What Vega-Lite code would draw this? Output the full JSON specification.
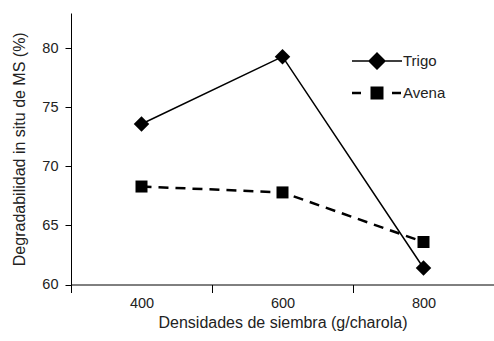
{
  "$schema": "https://vega.github.io/schema/vega-lite/v6.json",
  "width": 423,
  "height": 271.5,
  "autosize": "none",
  "padding": {"left": 71, "top": 13, "right": 0, "bottom": 56.5},
  "background": "white",
  "config": {
    "view": {"stroke": null},
    "font": "Liberation Sans",
    "axis": {
      "domainColor": "black",
      "tickColor": "black",
      "domainWidth": 1,
      "tickWidth": 1,
      "labelColor": "#222",
      "titleColor": "#222",
      "labelFont": "Liberation Sans",
      "titleFont": "Liberation Sans",
      "titleFontWeight": "normal",
      "labelFontSize": 14.5,
      "titleFontSize": 16,
      "grid": false
    }
  },
  "data": {
    "values": [
      {"densidad": "400", "serie": "Trigo", "valor": 73.6},
      {"densidad": "600", "serie": "Trigo", "valor": 79.3},
      {"densidad": "800", "serie": "Trigo", "valor": 61.4},
      {"densidad": "400", "serie": "Avena", "valor": 68.3},
      {"densidad": "600", "serie": "Avena", "valor": 67.8},
      {"densidad": "800", "serie": "Avena", "valor": 63.6}
    ]
  },
  "encoding": {
    "x": {
      "field": "densidad",
      "type": "ordinal",
      "sort": ["400", "600", "800"],
      "bandPosition": 0.5,
      "scale": {"type": "band", "paddingInner": 0, "paddingOuter": 0},
      "axis": {
        "title": "Densidades de siembra (g/charola)",
        "labelAngle": 0,
        "tickBand": "extent",
        "tickSize": 8,
        "labelPadding": 4,
        "titlePadding": 4
      }
    },
    "y": {
      "field": "valor",
      "type": "quantitative",
      "scale": {"domain": [60, 83], "nice": false, "zero": false},
      "axis": {
        "values": [60, 65, 70, 75, 80],
        "title": "Degradabilidad in situ de MS (%)",
        "tickSize": 6,
        "labelPadding": 7,
        "titlePadding": 14
      }
    }
  },
  "layer": [
    {
      "transform": [{"filter": "datum.serie === 'Trigo'"}],
      "mark": {"type": "line", "color": "black", "strokeWidth": 1.5},
      "encoding": {}
    },
    {
      "transform": [{"filter": "datum.serie === 'Avena'"}],
      "mark": {"type": "line", "color": "black", "strokeWidth": 2.5, "strokeDash": [10, 7]},
      "encoding": {}
    },
    {
      "transform": [{"filter": "datum.serie === 'Trigo'"}],
      "mark": {"type": "point", "filled": true, "color": "black", "opacity": 1, "size": 240, "shape": "diamond"},
      "encoding": {}
    },
    {
      "transform": [{"filter": "datum.serie === 'Avena'"}],
      "mark": {"type": "point", "filled": true, "color": "black", "opacity": 1, "size": 144, "shape": "square"},
      "encoding": {}
    },
    {
      "transform": [{"filter": "false"}],
      "mark": {"type": "point", "filled": true, "color": "black", "opacity": 1},
      "encoding": {
        "shape": {
          "field": "serie",
          "type": "nominal",
          "scale": {
            "domain": ["Trigo", "Avena"],
            "range": [
              "M-2.5,-0.075H2.5V0.075H-2.5ZM0,-0.9L0.9,0L0,0.9L-0.9,0Z",
              "M-2.5,-0.125H-1.6V0.125H-2.5ZM1.5,-0.125H2.4V0.125H1.5ZM-0.65,-0.65H0.65V0.65H-0.65Z"
            ]
          },
          "legend": {
            "orient": "none",
            "legendX": 296,
            "legendY": 38,
            "title": null,
            "padding": 0,
            "symbolSize": 400,
            "symbolStrokeWidth": 0,
            "symbolFillColor": "black",
            "symbolStrokeColor": "black",
            "symbolOpacity": 1,
            "labelOffset": 16,
            "labelFontSize": 15,
            "labelColor": "#222",
            "labelFont": "Liberation Sans",
            "rowPadding": 13
          }
        }
      }
    }
  ]
}
